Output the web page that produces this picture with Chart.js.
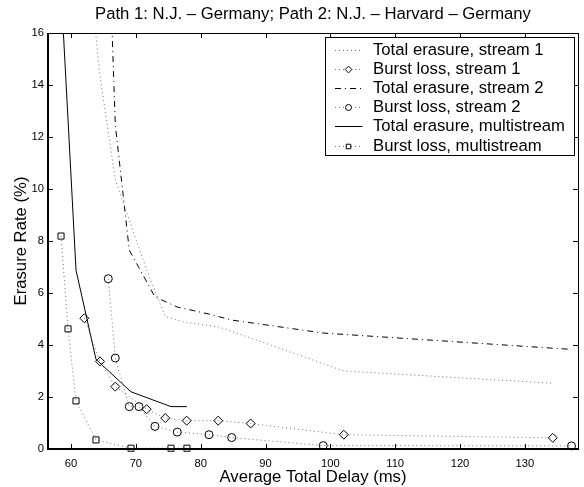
<!DOCTYPE html>
<html>
<head>
<meta charset="utf-8">
<script src="https://cdn.jsdelivr.net/npm/chart.js@4.4.1/dist/chart.umd.min.js"></script>
<style>
  html, body { margin: 0; padding: 0; background: #fff; }
</style>
</head>
<body>
<canvas id="chart" width="584" height="487"></canvas>
<script>
// average total delay (ms) of each operating point
const delayStream1 = [62.05, 64.47, 66.83, 71.67, 74.54, 77.84, 82.71, 87.71, 102.09, 134.31];
const delayStream2 = [65.75, 66.83, 68.99, 70.48, 72.95, 76.39, 81.28, 84.78, 98.90, 137.2];
const delayMulti = [58.46, 59.54, 60.77, 63.85, 69.25, 75.42, 77.88];

// erasure rates (%)
const totalStream1 = [20.3, 14.35, 10.35, 6.88, 5.09, 4.87, 4.70, 4.27, 3.00, 2.53];
const burstStream1 = [5.03, 3.37, 2.40, 1.53, 1.19, 1.09, 1.09, 0.98, 0.55, 0.43];
const totalStream2 = [20.3, 12.46, 7.65, 6.97, 5.85, 5.46, 5.19, 4.96, 4.46, 3.83];
const burstStream2 = [6.55, 3.50, 1.63, 1.63, 0.87, 0.65, 0.55, 0.44, 0.13, 0.12];
const totalMulti = [17.7, 12.66, 6.88, 3.45, 2.20, 1.63, 1.63];
const burstMulti = [8.19, 4.62, 1.85, 0.35, 0.03, 0.03, 0.03];

const xTicks = [60, 70, 80, 90, 100, 110, 120, 130];
const yTicks = [0, 2, 4, 6, 8, 10, 12, 14, 16];

const FONT = "'Liberation Sans', Arial, Helvetica, sans-serif";
const LABEL_SIZE = 16.7;
const dotGray = '#707070';
const dotted = [1, 3];
const dashDot = [6, 4, 1, 4];

const pts = (xs, ys) => xs.map((x, i) => ({ x: x, y: ys[i] }));

const markerSet = (style, radius) => ({
    pointStyle: style,
    pointRadius: radius,
    pointHoverRadius: radius,
    pointBorderColor: '#000',
    pointBackgroundColor: 'rgba(0,0,0,0)',
    pointBorderWidth: 1,
    clip: false
});

// inward ticks on all four sides, plus the box
const axesBox = {
    id: 'axesBox',
    afterDatasetsDraw(chart) {
        const { ctx, chartArea: a, scales } = chart;
        const len = 5;
        ctx.save();
        ctx.strokeStyle = '#000';
        ctx.lineWidth = 1;
        ctx.setLineDash([]);
        ctx.beginPath();
        scales.x.ticks.forEach(t => {
            const px = Math.round(scales.x.getPixelForValue(t.value)) + 0.5;
            ctx.moveTo(px, a.bottom); ctx.lineTo(px, a.bottom - len);
            ctx.moveTo(px, a.top); ctx.lineTo(px, a.top + len);
        });
        scales.y.ticks.forEach(t => {
            const py = Math.round(scales.y.getPixelForValue(t.value)) + 0.5;
            ctx.moveTo(a.left, py); ctx.lineTo(a.left + len, py);
            ctx.moveTo(a.right, py); ctx.lineTo(a.right - len, py);
        });
        ctx.moveTo(a.left, a.top + 0.5); ctx.lineTo(a.right, a.top + 0.5);
        ctx.moveTo(a.right + 0.5, a.top); ctx.lineTo(a.right + 0.5, a.bottom);
        ctx.stroke();
        ctx.lineWidth = 2;
        ctx.beginPath();
        ctx.moveTo(a.left, a.top); ctx.lineTo(a.left, a.bottom);
        ctx.lineTo(a.right + 1, a.bottom);
        ctx.stroke();
        ctx.restore();
    }
};

// boxed legend with line sample + marker, MATLAB style
const boxLegend = {
    id: 'boxLegend',
    afterDraw(chart) {
        const { ctx, chartArea: a } = chart;
        const sets = chart.data.datasets;
        const w = 249, rowH = 19.1;
        const left = a.right - 3.5 - w, top = a.top + 4.5;
        const h = 118;
        ctx.save();
        ctx.fillStyle = '#fff';
        ctx.fillRect(left, top, w, h);
        ctx.strokeStyle = '#000';
        ctx.lineWidth = 1;
        ctx.strokeRect(left, top, w, h);
        ctx.font = LABEL_SIZE + 'px ' + FONT;
        ctx.textBaseline = 'middle';
        sets.forEach((ds, i) => {
            const cy = Math.round(top + 12.5 + i * rowH) + 0.5;
            ctx.save();
            ctx.strokeStyle = ds.borderColor;
            ctx.lineWidth = 1;
            ctx.setLineDash(ds.borderDash || []);
            ctx.beginPath();
            ctx.moveTo(left + 9.5, cy);
            ctx.lineTo(left + 37, cy);
            ctx.stroke();
            ctx.restore();
            if (ds.pointRadius) {
                ctx.save();
                ctx.setLineDash([]);
                ctx.strokeStyle = '#000';
                ctx.fillStyle = '#fff';
                ctx.lineWidth = 1;
                Chart.helpers.drawPoint(ctx, {
                    pointStyle: ds.pointStyle,
                    radius: ds.pointRadius * 0.75,
                    rotation: 0,
                    borderWidth: 1
                }, left + 23, cy);
                ctx.restore();
            }
            ctx.fillStyle = '#000';
            ctx.fillText(ds.label, left + 47.5, cy);
        });
        ctx.restore();
    }
};

const ctx = document.getElementById('chart').getContext('2d');
new Chart(ctx, {
    type: 'scatter',
    data: {
        datasets: [
            {
                label: 'Total erasure, stream 1',
                data: pts(delayStream1, totalStream1),
                borderColor: dotGray, borderDash: dotted, borderWidth: 1,
                pointRadius: 0, showLine: true
            },
            Object.assign({
                label: 'Burst loss, stream 1',
                data: pts(delayStream1, burstStream1),
                borderColor: dotGray, borderDash: dotted, borderWidth: 1,
                showLine: true
            }, markerSet('rectRot', 4.5)),
            {
                label: 'Total erasure, stream 2',
                data: pts(delayStream2, totalStream2),
                borderColor: '#000', borderDash: dashDot, borderWidth: 1,
                pointRadius: 0, showLine: true
            },
            Object.assign({
                label: 'Burst loss, stream 2',
                data: pts(delayStream2, burstStream2),
                borderColor: dotGray, borderDash: dotted, borderWidth: 1,
                showLine: true
            }, markerSet('circle', 4)),
            {
                label: 'Total erasure, multistream',
                data: pts(delayMulti, totalMulti),
                borderColor: '#000', borderWidth: 1,
                pointRadius: 0, showLine: true
            },
            Object.assign({
                label: 'Burst loss, multistream',
                data: pts(delayMulti, burstMulti),
                borderColor: dotGray, borderDash: dotted, borderWidth: 1,
                showLine: true
            }, markerSet('rect', 4.3))
        ]
    },
    options: {
        responsive: false,
        animation: false,
        devicePixelRatio: 1,
        layout: { padding: { top: 0, right: 6, bottom: 0, left: 0 } },
        plugins: {
            legend: { display: false },
            tooltip: { enabled: false },
            title: {
                display: true,
                fullSize: false, // centre over the plot area, not the canvas
                text: 'Path 1: N.J. \u2013 Germany; Path 2: N.J. \u2013 Harvard \u2013 Germany',
                color: '#000',
                font: { family: FONT, size: LABEL_SIZE, weight: 'normal' },
                padding: { top: 4, bottom: 8.96 }
            }
        },
        scales: {
            x: {
                type: 'linear',
                min: 56.45,
                max: 138.2,
                afterBuildTicks: s => { s.ticks = xTicks.map(v => ({ value: v })); },
                afterFit: s => { s.height = 38; },
                grid: { display: false, drawTicks: false },
                border: { display: false },
                ticks: {
                    color: '#000',
                    padding: 8,
                    maxRotation: 0,
                    autoSkip: false,
                    font: { family: FONT, size: 11.2 }
                },
                title: {
                    display: true,
                    text: 'Average Total Delay (ms)',
                    color: '#000',
                    font: { family: FONT, size: LABEL_SIZE },
                    padding: { top: 0, bottom: 0 }
                }
            },
            y: {
                min: 0,
                max: 16,
                afterBuildTicks: s => { s.ticks = yTicks.map(v => ({ value: v })); },
                afterFit: s => { s.width = 48; },
                grid: { display: false, drawTicks: false },
                border: { display: false },
                ticks: {
                    color: '#000',
                    padding: 4,
                    autoSkip: false,
                    font: { family: FONT, size: 11.2 }
                },
                title: {
                    display: true,
                    text: 'Erasure Rate (%)',
                    color: '#000',
                    font: { family: FONT, size: LABEL_SIZE },
                    padding: { top: 11, bottom: 0 }
                }
            }
        }
    },
    plugins: [axesBox, boxLegend]
});
</script>
</body>
</html>
